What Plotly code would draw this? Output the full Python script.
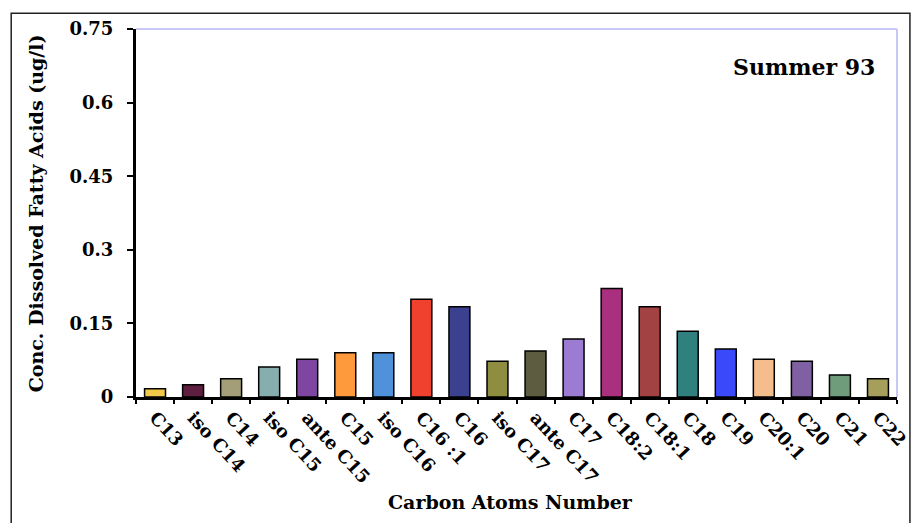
import plotly.graph_objects as go

categories = ["C13", "iso C14", "C14", "iso C15", "ante C15", "C15", "iso C16", "C16 :1",
              "C16", "iso C17", "ante C17", "C17", "C18:2", "C18:1", "C18", "C19",
              "C20:1", "C20", "C21", "C22"]
values = [0.017, 0.025, 0.037, 0.061, 0.077, 0.090, 0.090, 0.199,
          0.184, 0.073, 0.094, 0.118, 0.221, 0.184, 0.134, 0.098,
          0.077, 0.073, 0.045, 0.037]
colors = ["#F2C84B", "#5E1E40", "#A39E78", "#86AEAE", "#7E46A0", "#FF9A3C", "#4F92DA", "#F0402E",
          "#3C418F", "#8F8E40", "#5E5C40", "#9C7CD2", "#A8307E", "#A24242", "#318080", "#3A4AFA",
          "#F5BC8C", "#7F60A2", "#6F9C7A", "#A69F5C"]
y_ticks = [0, 0.15, 0.3, 0.45, 0.6, 0.75]
y_tick_text = ["0", "0.15", "0.3", "0.45", "0.6", "0.75"]

FONT = "DejaVu Serif"

fig = go.Figure(go.Bar(
    x=categories, y=values,
    marker=dict(color=colors, line=dict(color="black", width=1.5)),
    width=0.55,
))

fig.update_layout(
    width=912, height=523,
    margin=dict(l=136, r=15, t=29, b=126),
    paper_bgcolor="white", plot_bgcolor="white",
    showlegend=False,
    font=dict(family=FONT, color="black"),
    xaxis=dict(
        type="category", tickangle=47, tickson="boundaries", automargin=False,
        ticks="outside", ticklen=4, tickwidth=1.5, tickcolor="black",
        showline=True, linecolor="black", linewidth=3,
        showgrid=False, zeroline=False,
        tickfont=dict(family=FONT, size=18, color="black", weight="bold"),
    ),
    yaxis=dict(
        range=[0, 0.75], tickvals=y_ticks, ticktext=y_tick_text, automargin=False,
        ticks="outside", ticklen=6, tickwidth=1.5, tickcolor="black",
        showline=True, linecolor="black", linewidth=3,
        showgrid=False, zeroline=False, ticklabelstandoff=10,
        tickfont=dict(family=FONT, size=18, color="black", weight="bold"),
    ),
    shapes=[
        dict(type="line", xref="paper", yref="paper", x0=0, x1=1, y0=1, y1=1,
             line=dict(color="#C8C8F8", width=2)),
        dict(type="line", xref="paper", yref="paper", x0=1, x1=1, y0=0, y1=1,
             line=dict(color="#C8C8F8", width=2)),
        dict(type="rect", xref="paper", yref="paper", x0=-0.164, x1=1.017, y0=-0.345, y1=1.043,
             line=dict(color="#222222", width=1.5), fillcolor="rgba(0,0,0,0)", layer="above"),
    ],
    annotations=[
        dict(text="<b>Summer 93</b>", xref="paper", yref="paper", x=0.974, y=0.897,
             xanchor="right", yanchor="middle", showarrow=False,
             font=dict(family=FONT, size=22, color="black")),
        dict(text="<b>Carbon Atoms Number</b>", xref="paper", yref="paper", x=0.492, y=-0.286,
             xanchor="center", yanchor="middle", showarrow=False,
             font=dict(family=FONT, size=19, color="black")),
        dict(text="<b>Conc. Dissolved Fatty Acids (ug/l)</b>", xref="paper", yref="paper",
             x=-0.131, y=0.5, textangle=-90, xanchor="center", yanchor="middle", showarrow=False,
             font=dict(family=FONT, size=19, color="black")),
    ],
)

fig.write_html("out.html", config={"displayModeBar": False},
               post_script="document.body.style.margin='0px';")
